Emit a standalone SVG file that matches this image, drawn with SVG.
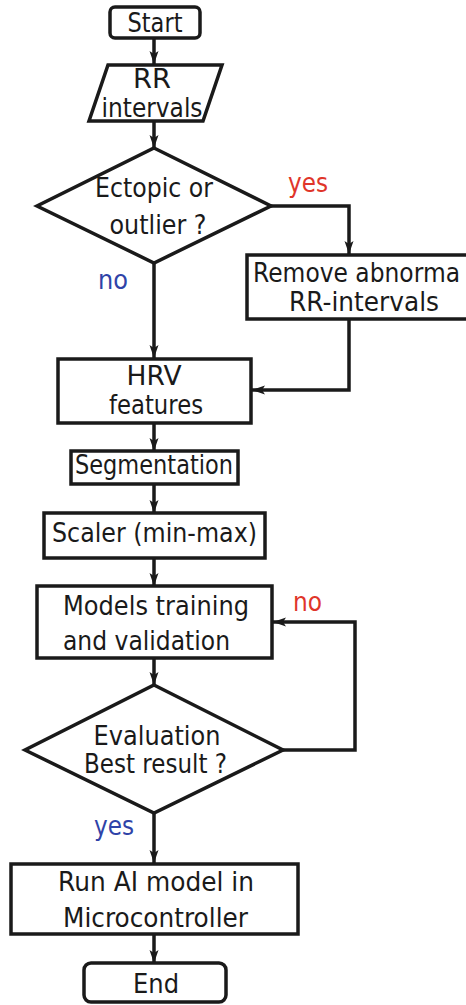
<svg xmlns="http://www.w3.org/2000/svg" width="466" height="1005" viewBox="0 0 466 1005">
<style>
.s{fill:#fff;stroke:#1a1a1a;stroke-width:3.5;stroke-linejoin:miter}
.t{font-family:"DejaVu Sans","Liberation Sans",sans-serif;font-size:26px;fill:#1a1a1a}
.m{text-anchor:middle}
.c{fill:none;stroke:#1a1a1a;stroke-width:3.5}
.red{fill:#e0352a}
.blue{fill:#2f43a8}
</style>
<defs>
<marker id="ah" markerUnits="userSpaceOnUse" markerWidth="14" markerHeight="10" refX="13" refY="4.5" orient="auto">
<path d="M0,0 L13,4.5 L0,9 L3,4.5 z" fill="#1a1a1a"/>
</marker>
</defs>
<rect width="466" height="1005" fill="#fff"/>
<g id="connectors">
<path class="c" d="M154,38 V64" marker-end="url(#ah)"/>
<path class="c" d="M154,121 V148" marker-end="url(#ah)"/>
<path class="c" d="M271,206 H349 V254" marker-end="url(#ah)"/>
<path class="c" d="M154,263 V358" marker-end="url(#ah)"/>
<path class="c" d="M349,319 V390 H252" marker-end="url(#ah)"/>
<path class="c" d="M154,423 V451" marker-end="url(#ah)"/>
<path class="c" d="M154,484 V513" marker-end="url(#ah)"/>
<path class="c" d="M154,558 V586" marker-end="url(#ah)"/>
<path class="c" d="M154,658 V685" marker-end="url(#ah)"/>
<path class="c" d="M283,750 H355 V622 H273" marker-end="url(#ah)"/>
<path class="c" d="M154,813 V863" marker-end="url(#ah)"/>
<path class="c" d="M154,934 V963" marker-end="url(#ah)"/>
<text class="t red" x="288" y="192" textLength="40" lengthAdjust="spacingAndGlyphs">yes</text>
<text class="t blue" x="98" y="289" textLength="30" lengthAdjust="spacingAndGlyphs">no</text>
<text class="t red" x="293" y="611" textLength="29" lengthAdjust="spacingAndGlyphs">no</text>
<text class="t blue" x="94" y="835" textLength="40" lengthAdjust="spacingAndGlyphs">yes</text>
</g>
<g id="start">
<rect class="s" x="110" y="7" width="90" height="31" rx="5"/>
<text class="t m" x="155" y="32" textLength="55" lengthAdjust="spacingAndGlyphs">Start</text>
</g>
<g id="rr">
<polygon class="s" points="108,65 222,65 203,121 89,121"/>
<text class="t m" x="152" y="88" textLength="38" lengthAdjust="spacingAndGlyphs">RR</text>
<text class="t m" x="152" y="117" textLength="101" lengthAdjust="spacingAndGlyphs">intervals</text>
</g>
<g id="ectopic">
<polygon class="s" points="154,148 271,206 154,263 37,206"/>
<text class="t m" x="154" y="197" textLength="118" lengthAdjust="spacingAndGlyphs">Ectopic or</text>
<text class="t m" x="158" y="234" textLength="97" lengthAdjust="spacingAndGlyphs">outlier ?</text>
</g>
<g id="remove">
<rect class="s" x="247" y="255" width="230" height="64"/>
<text class="t" x="253" y="282" textLength="207" lengthAdjust="spacingAndGlyphs">Remove abnorma</text>
<text class="t m" x="364" y="311" textLength="150" lengthAdjust="spacingAndGlyphs">RR-intervals</text>
</g>
<g id="hrv">
<rect class="s" x="58" y="359" width="193" height="64"/>
<text class="t m" x="154" y="385" textLength="55" lengthAdjust="spacingAndGlyphs">HRV</text>
<text class="t m" x="156" y="414" textLength="94" lengthAdjust="spacingAndGlyphs">features</text>
</g>
<g id="segmentation">
<rect class="s" x="71" y="451" width="167" height="33"/>
<text class="t m" x="154" y="474" textLength="158" lengthAdjust="spacingAndGlyphs">Segmentation</text>
</g>
<g id="scaler">
<rect class="s" x="44" y="513" width="221" height="45"/>
<text class="t m" x="154.5" y="542" textLength="205" lengthAdjust="spacingAndGlyphs">Scaler (min-max)</text>
</g>
<g id="models">
<rect class="s" x="37" y="586" width="235" height="72"/>
<text class="t" x="63" y="615" textLength="186" lengthAdjust="spacingAndGlyphs">Models training</text>
<text class="t" x="63" y="650" textLength="167" lengthAdjust="spacingAndGlyphs">and validation</text>
</g>
<g id="evaluation">
<polygon class="s" points="154,685 283,750 154,813 25,750"/>
<text class="t m" x="157" y="745" textLength="127" lengthAdjust="spacingAndGlyphs">Evaluation</text>
<text class="t m" x="155.5" y="773" textLength="143" lengthAdjust="spacingAndGlyphs">Best result ?</text>
</g>
<g id="run">
<rect class="s" x="11" y="864" width="287" height="70"/>
<text class="t m" x="156" y="891" textLength="196" lengthAdjust="spacingAndGlyphs">Run AI model in</text>
<text class="t m" x="155.5" y="927" textLength="185" lengthAdjust="spacingAndGlyphs">Microcontroller</text>
</g>
<g id="end">
<rect class="s" x="84" y="963" width="142" height="39" rx="7"/>
<text class="t m" x="156" y="993" textLength="46" lengthAdjust="spacingAndGlyphs">End</text>
</g>
</svg>
